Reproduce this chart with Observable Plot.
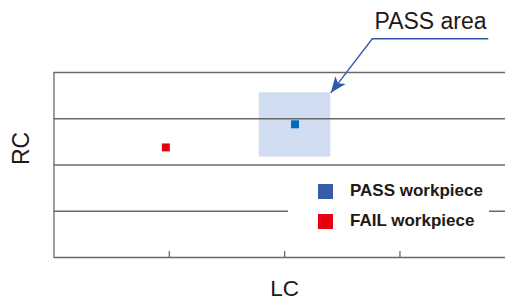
<!DOCTYPE html>
<html>
<head>
<meta charset="utf-8">
<script src="https://cdn.jsdelivr.net/npm/d3@7"></script>
<script src="https://cdn.jsdelivr.net/npm/@observablehq/plot@0.6"></script>
<style>
  html, body { margin: 0; padding: 0; background: #fff; }
  #chart { position: relative; width: 505px; height: 300px; font-family: "Liberation Sans", Arial, sans-serif; }
  #legend { position: absolute; background: #fff; }
  .sw { position: absolute; width: 15px; height: 15px; }
  .lt { position: absolute; font-weight: bold; font-size: 17px; color: #231815; white-space: nowrap; line-height: 1; }
</style>
</head>
<body>
<div id="chart"></div>
<script>
// ---- data ----
const categories = ["PASS workpiece", "FAIL workpiece"];
const lcValues = [2.09, 0.97];
const rcValues = [2.88, 2.38];
const pointColors = ["#0068b7", "#e60012"];
const legendColors = ["#3a5ba6", "#e60012"];
const xTicks = [1, 2, 3];
const yGrid = [1, 2, 3, 4];
const passAreaLC = [1.78, 2.40];
const passAreaRC = [2.17, 3.56];
const annotationLabel = "PASS area";
const annotationElbow = [2.76, 4.73];
const annotationEndLC = 3.77;
const xLabel = "LC";
const yLabel = "RC";

const points = categories.map((c, i) => ({name: c, lc: lcValues[i], rc: rcValues[i], color: pointColors[i]}));
const area = [{x1: passAreaLC[0], x2: passAreaLC[1], y1: passAreaRC[0], y2: passAreaRC[1]}];

const axisColor = "#6b6869";
const textColor = "#231815";
const arrowColor = "#2f58a8";

const plot = Plot.plot({
  width: 505,
  height: 300,
  marginLeft: 53.5,
  marginRight: 0,
  marginTop: 72,
  marginBottom: 43,
  style: {fontFamily: "'Liberation Sans', Arial, sans-serif", background: "transparent"},
  x: {domain: [0, 3.915], axis: null},
  y: {domain: [0, 4], axis: null},
  marks: [
    Plot.rect(area, {x1: "x1", x2: "x2", y1: "y1", y2: "y2", fill: "#d0dcf0"}),
    Plot.ruleY([0, ...yGrid], {stroke: axisColor, strokeWidth: 1.3}),
    Plot.ruleX([0], {stroke: axisColor, strokeWidth: 1.3}),
    Plot.axisX({ticks: xTicks, tickSize: 6, dy: -6, tickFormat: () => "", label: null, stroke: axisColor, strokeWidth: 1.3}),
    Plot.dot(points, {x: "lc", y: "rc", fill: "color", symbol: "square", r: 4.5}),
    Plot.link([0], {x1: annotationElbow[0], y1: annotationElbow[1], x2: passAreaLC[1], y2: passAreaRC[1], stroke: arrowColor, strokeWidth: 1.3, markerEnd: "arrow", className: "ann-arrow"}),
    Plot.ruleY([annotationElbow[1]], {x1: annotationElbow[0], x2: annotationEndLC, stroke: arrowColor, strokeWidth: 1.3}),
    Plot.text([annotationLabel], {x: (annotationElbow[0] + annotationEndLC) / 2, y: annotationElbow[1], dy: -10, lineAnchor: "bottom", text: d => d, fontSize: 23, fill: textColor}),
    Plot.text([xLabel], {x: xTicks[1], frameAnchor: "bottom", lineAnchor: "bottom", dy: 38, text: d => d, fontSize: 22.5, fill: textColor}),
    Plot.text([yLabel], {frameAnchor: "left", rotate: -90, dx: -32, text: d => d, fontSize: 23, fill: textColor})
  ]
});

// filled arrowhead
plot.querySelectorAll("marker").forEach(m => {
  m.setAttribute("markerUnits", "userSpaceOnUse");
  m.setAttribute("viewBox", "-16 -8 17 16");
  m.setAttribute("markerWidth", 17);
  m.setAttribute("markerHeight", 16);
  m.setAttribute("fill", arrowColor);
  m.setAttribute("stroke", "none");
  const p = m.querySelector("path");
  p.setAttribute("d", "M0,0L-16,-6.5L-12,0L-16,6.5Z");
});

const chart = document.getElementById("chart");
chart.appendChild(plot);

// legend
const legend = document.createElement("div");
legend.id = "legend";
Object.assign(legend.style, {left: "288px", top: "176px", width: "201px", height: "60px"});
categories.forEach((c, i) => {
  const sw = document.createElement("div");
  sw.className = "sw";
  sw.style.left = "30px";
  sw.style.top = (8 + i * 30) + "px";
  sw.style.background = legendColors[i];
  const t = document.createElement("div");
  t.className = "lt";
  t.style.left = "62px";
  t.style.top = (6 + i * 30) + "px";
  t.textContent = c;
  legend.appendChild(sw);
  legend.appendChild(t);
});
chart.appendChild(legend);
</script>
</body>
</html>
